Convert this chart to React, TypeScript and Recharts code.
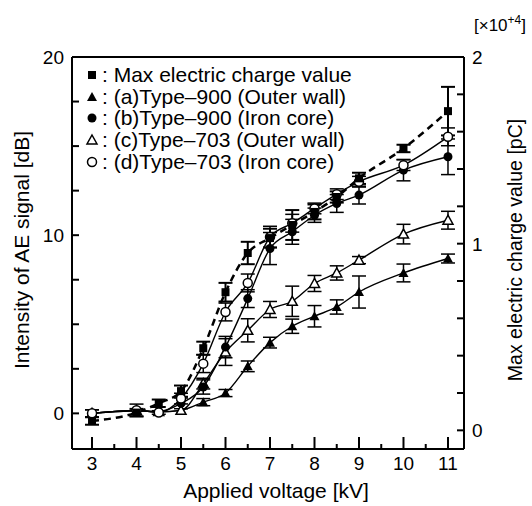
import React from 'react';
import { LineChart, Line, XAxis, YAxis, ErrorBar, ReferenceLine } from 'recharts';

// applied voltage [kV]
const voltage = [3, 4, 4.5, 5, 5.5, 6, 6.5, 7, 7.5, 8, 8.5, 9, 10, 11];

// max electric charge value [pC x10^4] (right axis)
const maxCharge = [0.05, 0.095, 0.145, 0.21, 0.44, 0.74, 0.95, 1.03, 1.1, 1.17, 1.25, 1.35, 1.51, 1.71];
const maxChargeErr = [0.02, 0.02, 0.02, 0.03, 0.035, 0.05, 0.06, 0.05, 0.08, 0.04, 0.03, 0.03, 0.02, 0.13];

// AE signal intensity [dB] (left axis)
const type900Outer = [0, 0.17, 0.07, 0.17, 0.63, 1.14, 2.64, 3.97, 4.89, 5.45, 5.97, 6.81, 7.88, 8.69];
const type900OuterErr = [0, 0, 0, 0, 0.2, 0.2, 0.3, 0.3, 0.4, 0.6, 0.4, 0.9, 0.5, 0.25];
const type900Core = [0, 0.15, 0.1, 0.56, 1.48, 3.72, 6.44, 9.25, 10.19, 11.12, 11.78, 12.25, 13.65, 14.4];
const type900CoreErr = [0.2, 0, 0, 0.3, 0.4, 0.6, 0.5, 0.9, 0.7, 0.4, 0.5, 0.5, 0.6, 1.0];
const type703Outer = [0, 0.15, 0.1, 0.17, 1.67, 3.44, 4.66, 5.83, 6.29, 7.29, 7.88, 8.6, 10.06, 10.84];
const type703OuterErr = [0, 0, 0, 0, 0.3, 0.75, 0.65, 0.45, 0.85, 0.45, 0.4, 0.2, 0.55, 0.5];
const type703Core = [0, 0.17, 0.05, 0.83, 2.79, 5.69, 7.32, 9.9, 10.67, 11.5, 12.3, 13.0, 13.93, 15.52];
const type703CoreErr = [0.2, 0.35, 0.1, 0.3, 0.5, 0.5, 0.5, 0.6, 0.5, 0.3, 0.3, 0.3, 0.3, 0.5];

const xTicks = [3, 3.5, 4, 4.5, 5, 5.5, 6, 6.5, 7, 7.5, 8, 8.5, 9, 9.5, 10, 10.5, 11];
const leftTicks = [0, 2.5, 5, 7.5, 10, 12.5, 15, 17.5, 20];
const leftLabels = [0, 10, 20];
const rightTicks = [0, 0.2, 0.4, 0.6, 0.8, 1, 1.2, 1.4, 1.6, 1.8, 2];
const rightLabels = [0, 1, 2];

const legendItems = [
  { shape: 'square', text: 'Max electric charge value' },
  { shape: 'triUp', text: '(a)Type\u2013900 (Outer wall)' },
  { shape: 'circle', text: '(b)Type\u2013900 (Iron core)' },
  { shape: 'triOpen', text: '(c)Type\u2013703 (Outer wall)' },
  { shape: 'circleOpen', text: '(d)Type\u2013703 (Iron core)' },
];

const nz = (v: number) => (v > 0 ? v : null);

const data = voltage.map((v, i) => ({
  v,
  maxCharge: maxCharge[i],
  maxChargeErr: nz(maxChargeErr[i]),
  a: type900Outer[i],
  aErr: nz(type900OuterErr[i]),
  b: type900Core[i],
  bErr: nz(type900CoreErr[i]),
  c: type703Outer[i],
  cErr: nz(type703OuterErr[i]),
  d: type703Core[i],
  dErr: nz(type703CoreErr[i]),
}));

const FONT = '"Liberation Sans", Arial, Helvetica, sans-serif';

const Marker = ({ shape, cx, cy }: { shape: string; cx: number; cy: number }) => {
  if (shape === 'square') return <rect x={cx - 4} y={cy - 4} width={8} height={8} fill="#000" />;
  if (shape === 'triUp')
    return <polygon points={`${cx},${cy - 5} ${cx + 5},${cy + 4} ${cx - 5},${cy + 4}`} fill="#000" />;
  if (shape === 'triOpen')
    return (
      <polygon
        points={`${cx},${cy - 5} ${cx + 5},${cy + 4} ${cx - 5},${cy + 4}`}
        fill="#fff"
        stroke="#000"
        strokeWidth={1.5}
      />
    );
  if (shape === 'circle') return <circle cx={cx} cy={cy} r={4.5} fill="#000" />;
  return <circle cx={cx} cy={cy} r={4.5} fill="#fff" stroke="#000" strokeWidth={1.5} />;
};

const dotOf = (shape: string) => (p: any) =>
  p.cx == null ? <g key={p.key} /> : <Marker key={p.key} shape={shape} cx={p.cx} cy={p.cy} />;

const XTick = (p: any) => {
  const major = Number.isInteger(p.payload.value);
  return (
    <g>
      <line x1={p.x} x2={p.x} y1={p.y} y2={p.y - (major ? 12 : 5)} stroke="#000" strokeWidth={2} />
      {major && (
        <text x={p.x} y={p.y + 21} textAnchor="middle" fontSize={19} fontFamily={FONT} fill="#000">
          {p.payload.value}
        </text>
      )}
    </g>
  );
};

const LeftTick = (p: any) => (
  <g>
    <line x1={p.x} x2={p.x + 7} y1={p.y} y2={p.y} stroke="#000" strokeWidth={2} />
    {leftLabels.includes(p.payload.value) && (
      <text x={p.x - 8} y={p.y + 7} textAnchor="end" fontSize={19} fontFamily={FONT} fill="#000">
        {p.payload.value}
      </text>
    )}
  </g>
);

const RightTick = (p: any) => (
  <g>
    <line x1={p.x} x2={p.x - 7} y1={p.y} y2={p.y} stroke="#000" strokeWidth={2} />
    {rightLabels.includes(p.payload.value) && (
      <text x={p.x + 8} y={p.y + 7} textAnchor="start" fontSize={19} fontFamily={FONT} fill="#000">
        {p.payload.value}
      </text>
    )}
  </g>
);

export default function App() {
  return (
    <div style={{ position: 'absolute', left: 0, top: 0, width: 532, height: 506, background: '#fff', fontFamily: FONT, overflow: 'hidden' }}>
      <LineChart width={532} height={506} data={data} margin={{ top: 57, right: 18, bottom: 17, left: 22 }}>
        <XAxis
          dataKey="v"
          type="number"
          domain={[2.55, 11.36]}
          ticks={xTicks}
          interval={0}
          tickSize={0}
          tickMargin={0}
          tick={XTick}
          height={40}
          axisLine={{ stroke: '#000', strokeWidth: 2 }}
          tickLine={false}
          allowDataOverflow
        />
        <YAxis
          yAxisId="left"
          type="number"
          domain={[-2, 20]}
          ticks={leftTicks}
          interval={0}
          tickSize={0}
          tickMargin={0}
          tick={LeftTick}
          width={50}
          axisLine={{ stroke: '#000', strokeWidth: 2 }}
          tickLine={false}
          allowDataOverflow
        />
        <YAxis
          yAxisId="right"
          orientation="right"
          type="number"
          domain={[-0.1, 2]}
          ticks={rightTicks}
          interval={0}
          tickSize={0}
          tickMargin={0}
          tick={RightTick}
          width={50}
          axisLine={{ stroke: '#000', strokeWidth: 2 }}
          tickLine={false}
          allowDataOverflow
        />
        <ReferenceLine yAxisId="left" y={20} stroke="#000" strokeWidth={2} />

        <Line yAxisId="left" dataKey="a" type="monotone" stroke="#000" strokeWidth={1.4} dot={dotOf('triUp')} activeDot={false} isAnimationActive={false}>
          <ErrorBar dataKey="aErr" direction="y" width={7} stroke="#000" strokeWidth={1.5} />
        </Line>
        <Line yAxisId="left" dataKey="c" type="monotone" stroke="#000" strokeWidth={1.4} dot={dotOf('triOpen')} activeDot={false} isAnimationActive={false}>
          <ErrorBar dataKey="cErr" direction="y" width={7} stroke="#000" strokeWidth={1.5} />
        </Line>
        <Line yAxisId="left" dataKey="b" type="monotone" stroke="#000" strokeWidth={1.4} dot={dotOf('circle')} activeDot={false} isAnimationActive={false}>
          <ErrorBar dataKey="bErr" direction="y" width={7} stroke="#000" strokeWidth={1.5} />
        </Line>
        <Line yAxisId="left" dataKey="d" type="monotone" stroke="#000" strokeWidth={1.4} dot={dotOf('circleOpen')} activeDot={false} isAnimationActive={false}>
          <ErrorBar dataKey="dErr" direction="y" width={7} stroke="#000" strokeWidth={1.5} />
        </Line>
        <Line yAxisId="right" dataKey="maxCharge" type="monotone" stroke="#000" strokeWidth={2.5} strokeDasharray="7 5" dot={dotOf('square')} activeDot={false} isAnimationActive={false}>
          <ErrorBar dataKey="maxChargeErr" direction="y" width={7} stroke="#000" strokeWidth={2} />
        </Line>
      </LineChart>

      {/* legend */}
      <div style={{ position: 'absolute', left: 84, top: 64, fontSize: 21, lineHeight: '21.7px', color: '#000' }}>
        {legendItems.map((it) => (
          <div key={it.text} style={{ display: 'flex', alignItems: 'center', whiteSpace: 'nowrap' }}>
            <svg width={16} height={16} style={{ marginRight: 2 }}>
              <Marker shape={it.shape} cx={8} cy={8} />
            </svg>
            <span>: {it.text}</span>
          </div>
        ))}
      </div>

      {/* axis titles */}
      <div style={{ position: 'absolute', left: 22, top: 250, transform: 'translate(-50%, -50%) rotate(-90deg)', fontSize: 21, whiteSpace: 'nowrap' }}>
        Intensity of AE signal [dB]
      </div>
      <div style={{ position: 'absolute', left: 515, top: 250, transform: 'translate(-50%, -50%) rotate(-90deg)', fontSize: 19.5, whiteSpace: 'nowrap' }}>
        Max electric charge value [pC]
      </div>
      <div style={{ position: 'absolute', left: 276, top: 491, transform: 'translate(-50%, -50%)', fontSize: 21, whiteSpace: 'nowrap' }}>
        Applied voltage [kV]
      </div>
      <div style={{ position: 'absolute', left: 474, top: 8, fontSize: 17, lineHeight: '24px', whiteSpace: 'nowrap' }}>
        [×10<sup style={{ fontSize: 12 }}>+4</sup>]
      </div>
    </div>
  );
}
